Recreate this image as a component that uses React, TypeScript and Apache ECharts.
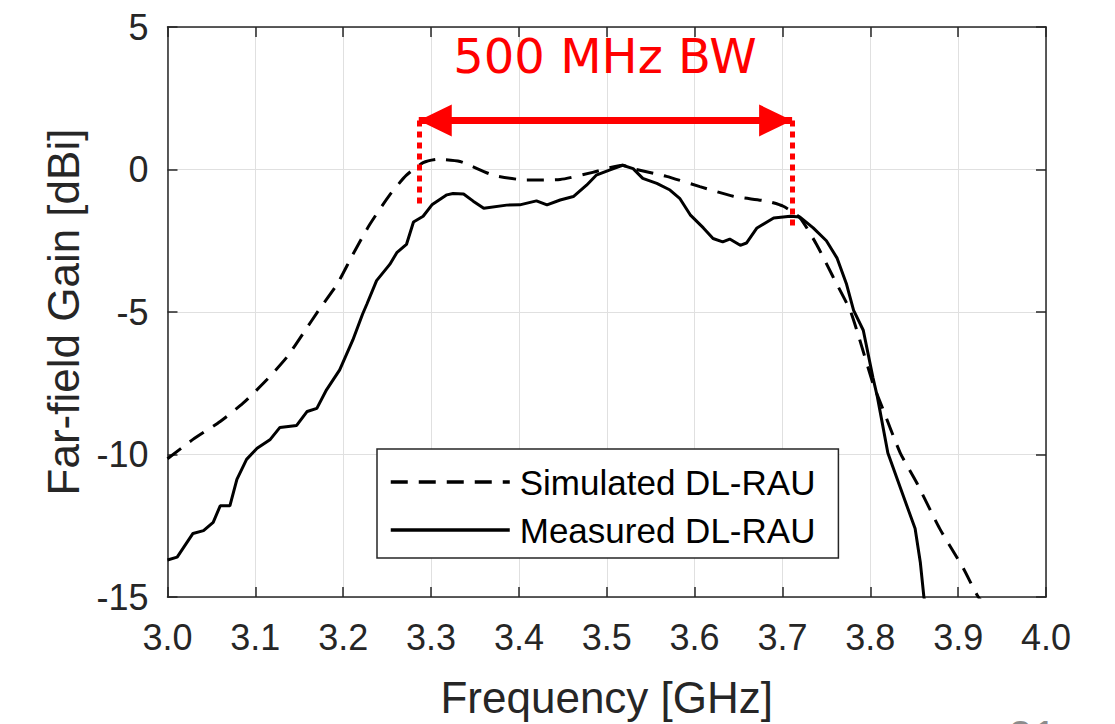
import React, { useEffect, useRef } from "react";
import * as echarts from "echarts";

// ---- Data ----
const simFreq = [3.0, 3.029, 3.06, 3.086, 3.113, 3.136, 3.154, 3.173, 3.193, 3.211, 3.23, 3.253, 3.272, 3.291, 3.307, 3.333, 3.371, 3.409, 3.447, 3.484, 3.518, 3.53, 3.568, 3.606, 3.644, 3.682, 3.701, 3.72, 3.739, 3.758, 3.777, 3.788, 3.803, 3.813, 3.834, 3.853, 3.879, 3.906, 3.923, 3.94];
const simGain = [-10.15, -9.47, -8.84, -8.2, -7.38, -6.58, -5.77, -4.9, -4.03, -2.98, -1.94, -0.89, -0.2, 0.24, 0.36, 0.28, -0.2, -0.37, -0.35, -0.1, 0.15, 0.03, -0.24, -0.6, -0.94, -1.11, -1.29, -1.7, -2.64, -3.79, -4.94, -5.98, -7.5, -8.3, -9.94, -11.0, -12.6, -14.0, -15.0, -15.6];

const measFreq = [3.0, 3.011, 3.029, 3.041, 3.052, 3.06, 3.071, 3.079, 3.09, 3.102, 3.117, 3.128, 3.147, 3.159, 3.17, 3.181, 3.196, 3.211, 3.222, 3.227, 3.238, 3.253, 3.261, 3.272, 3.28, 3.291, 3.301, 3.318, 3.325, 3.337, 3.348, 3.36, 3.386, 3.401, 3.42, 3.432, 3.447, 3.462, 3.477, 3.488, 3.503, 3.518, 3.53, 3.541, 3.557, 3.572, 3.583, 3.595, 3.61, 3.621, 3.632, 3.64, 3.652, 3.659, 3.671, 3.69, 3.709, 3.72, 3.735, 3.75, 3.762, 3.773, 3.781, 3.792, 3.803, 3.808, 3.82, 3.834, 3.851, 3.857, 3.861, 3.865];
const measGain = [-13.7, -13.6, -12.77, -12.67, -12.38, -11.8, -11.8, -10.87, -10.17, -9.78, -9.47, -9.05, -8.98, -8.49, -8.38, -7.73, -7.03, -5.98, -5.08, -4.72, -3.9, -3.33, -2.92, -2.63, -1.84, -1.64, -1.24, -0.89, -0.84, -0.86, -1.11, -1.36, -1.25, -1.24, -1.1, -1.24, -1.07, -0.95, -0.55, -0.2, -0.02, 0.15, 0.03, -0.31, -0.49, -0.72, -1.01, -1.59, -2.05, -2.42, -2.54, -2.44, -2.66, -2.58, -2.05, -1.7, -1.64, -1.67, -2.05, -2.5, -3.1, -4.03, -4.94, -5.64, -7.3, -7.97, -9.95, -11.15, -12.6, -13.8, -15.0, -15.6];

const seriesNames = ["Simulated DL-RAU", "Measured DL-RAU"];
const xTicks = { min: 3.0, max: 4.0, interval: 0.1 };
const yTicks = { min: -15, max: 5, interval: 5 };

// bandwidth annotation (GHz / dBi)
const bwStart = 3.286;
const bwEnd = 3.711;
const bwArrowLevel = 1.72;
const bwLeftBottom = -1.24;
const bwRightBottom = -1.98;
const bwLabel = "500 MHz BW";
const slideNumber = "21";

const AXIS_COLOR = "#262626";
const RED = "#ff0000";
const FONT = "'Liberation Sans', Arial, sans-serif";

export default function App() {
  const ref = useRef<HTMLDivElement>(null);

  useEffect(() => {
    if (!ref.current) return;
    const chart = echarts.init(ref.current, null, { renderer: "svg" });

    const simData = simFreq.map((f, i) => [f, simGain[i]]);
    const measData = measFreq.map((f, i) => [f, measGain[i]]);

    const axisLine = { show: true, onZero: false, lineStyle: { color: AXIS_COLOR, width: 1.5 } };
    const axisTick = { show: true, inside: true, length: 10, lineStyle: { color: AXIS_COLOR, width: 1.5 } };
    const splitLine = { show: true, lineStyle: { color: "#e0e0e0", width: 1 } };

    const redEnd = { symbol: "triangle", symbolSize: [32, 33], symbolOffset: [0, 16.5] };
    const dotted = { color: RED, width: 5, type: [6, 5] };

    const option = {
      animation: false,
      backgroundColor: "#ffffff",
      grid: { left: 167.5, right: 69, top: 27, bottom: 122, containLabel: false },
      legend: {
        data: seriesNames,
        orient: "vertical",
        left: 377,
        top: 449,
        itemWidth: 119,
        itemHeight: 14,
        itemGap: 8,
        padding: [13, 23, 8, 12],
        backgroundColor: "#ffffff",
        borderColor: AXIS_COLOR,
        borderWidth: 1.5,
        selectedMode: false,
        itemStyle: { opacity: 0 },
        lineStyle: { width: 3.5 },
        textStyle: { fontSize: 35, fontFamily: FONT, color: "#000", lineHeight: 40, padding: [0, 0, 0, 5] },
      },
      xAxis: [
        {
          type: "value",
          min: xTicks.min,
          max: xTicks.max,
          interval: xTicks.interval,
          position: "bottom",
          axisLine,
          axisTick,
          splitLine,
          axisLabel: {
            formatter: (v: number) => v.toFixed(1),
            fontSize: 36,
            color: AXIS_COLOR,
            fontFamily: FONT,
            margin: 22,
          },
          name: "Frequency [GHz]",
          nameLocation: "middle",
          nameGap: 78,
          nameTextStyle: { fontSize: 44, color: AXIS_COLOR, fontFamily: FONT },
        },
        {
          type: "value",
          min: xTicks.min,
          max: xTicks.max,
          interval: xTicks.interval,
          position: "top",
          axisLine,
          axisTick,
          splitLine: { show: false },
          axisLabel: { show: false },
        },
      ],
      yAxis: [
        {
          type: "value",
          min: yTicks.min,
          max: yTicks.max,
          interval: yTicks.interval,
          position: "left",
          axisLine,
          axisTick,
          splitLine,
          axisLabel: { fontSize: 36, color: AXIS_COLOR, fontFamily: FONT, margin: 19 },
          name: "Far-field Gain [dBi]",
          nameLocation: "middle",
          nameGap: 80,
          nameTextStyle: { fontSize: 44, color: AXIS_COLOR, fontFamily: FONT },
        },
        {
          type: "value",
          min: yTicks.min,
          max: yTicks.max,
          interval: yTicks.interval,
          position: "right",
          axisLine,
          axisTick,
          splitLine: { show: false },
          axisLabel: { show: false },
        },
      ],
      series: [
        {
          name: seriesNames[0],
          type: "line",
          data: simData,
          symbol: "none",
          showSymbol: false,
          smooth: 0.2,
          clip: true,
          lineStyle: { color: "#000", width: 3, type: [17, 11] },
          itemStyle: { color: "#000" },
          z: 3,
        },
        {
          name: seriesNames[1],
          type: "line",
          data: measData,
          symbol: "none",
          showSymbol: false,
          clip: true,
          lineStyle: { color: "#000", width: 3, type: "solid" },
          itemStyle: { color: "#000" },
          z: 3,
        },
        {
          name: "bw-annotation",
          type: "line",
          data: [],
          z: 5,
          markLine: {
            silent: true,
            animation: false,
            label: { show: false },
            emphasis: { disabled: true },
            symbol: ["none", "none"],
            data: [
              [
                { coord: [bwStart, bwArrowLevel], ...redEnd, lineStyle: { color: RED, width: 7, type: "solid" } },
                { coord: [bwEnd, bwArrowLevel], ...redEnd },
              ],
              [
                { coord: [bwStart, bwArrowLevel], symbol: "none", lineStyle: dotted },
                { coord: [bwStart, bwLeftBottom], symbol: "none" },
              ],
              [
                { coord: [bwEnd, bwArrowLevel], symbol: "none", lineStyle: dotted },
                { coord: [bwEnd, bwRightBottom], symbol: "none" },
              ],
            ],
          },
        },
      ],
      graphic: [
        {
          type: "text",
          x: 605,
          y: 56,
          z: 10,
          style: {
            text: bwLabel,
            fill: RED,
            fontSize: 48,
            fontFamily: "'DejaVu Sans', Verdana, sans-serif",
            textAlign: "center",
            textVerticalAlign: "middle",
          },
        },
        {
          type: "text",
          x: 1008,
          y: 714,
          z: 10,
          style: {
            text: slideNumber,
            fill: "#8c8c8c",
            fontSize: 44,
            fontFamily: FONT,
            textAlign: "left",
            textVerticalAlign: "top",
          },
        },
      ],
    };

    chart.setOption(option as any);
    return () => chart.dispose();
  }, []);

  return (
    <div
      ref={ref}
      style={{ position: "fixed", left: 0, top: 0, width: 1115, height: 724, background: "#fff" }}
    />
  );
}
